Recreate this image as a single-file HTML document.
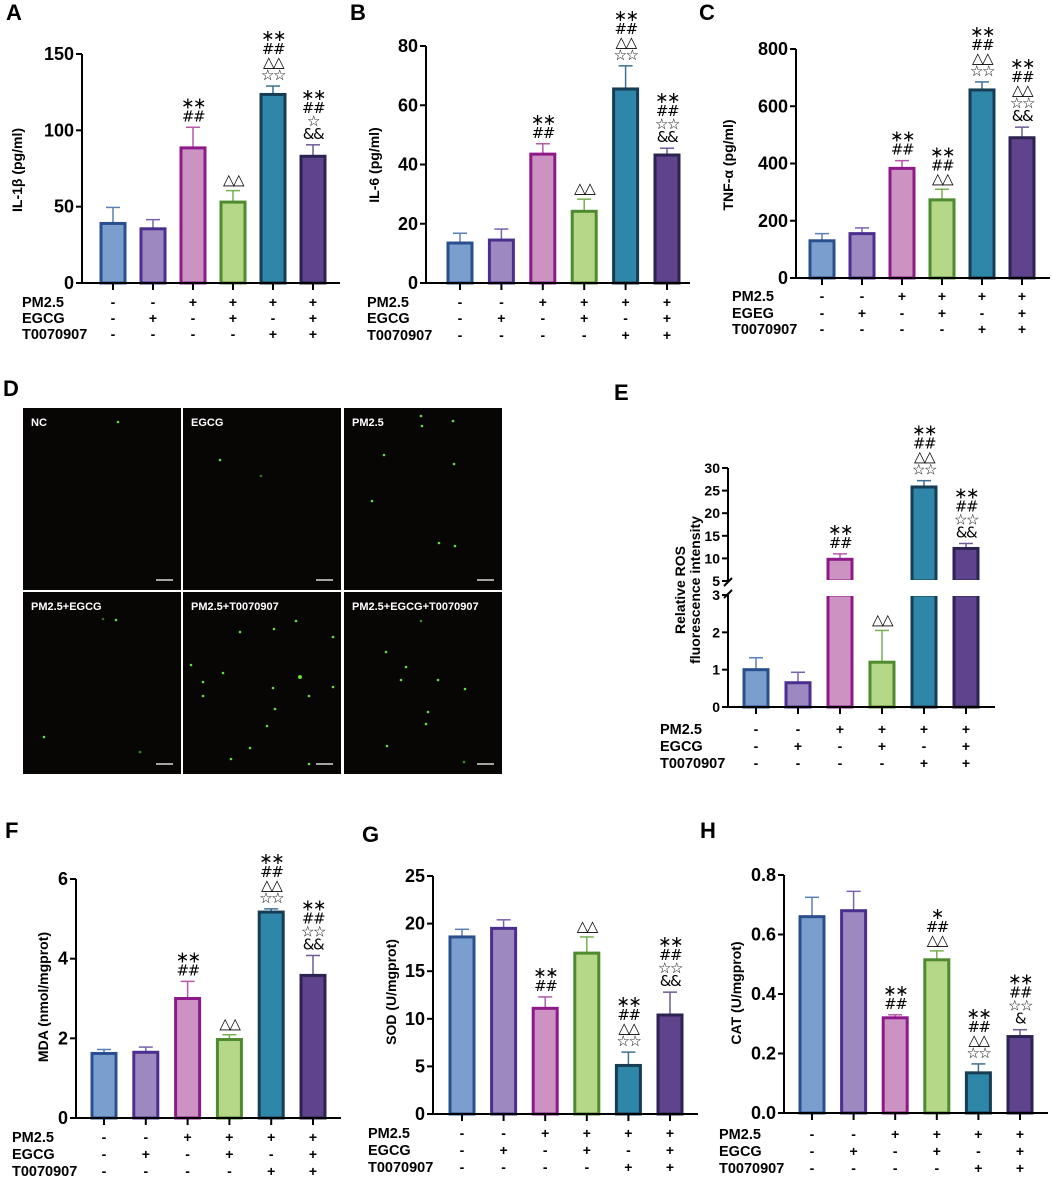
<!DOCTYPE html>
<html><head><meta charset="utf-8"><style>
html,body{margin:0;padding:0;background:#fff;}
svg{display:block;font-family:"Liberation Sans","DejaVu Sans",sans-serif;}
</style></head><body>
<svg id="fig" width="1052" height="1178" viewBox="0 0 1052 1178" xmlns="http://www.w3.org/2000/svg"></svg>
<script>
// ---------- data ----------
const groupRows = ["PM2.5","EGCG","T0070907"];
const groupSigns = [["-","-","+","+","+","+"],["-","+","-","+","-","+"],["-","-","-","-","+","+"]];
const il1bMeans = [39,35.5,88.5,53,123.5,83];
const il1bTops  = [49.5,41.5,102,60.5,129,90.5];
const il6Means = [13.5,14.5,43.5,24.2,65.5,43.2];
const il6Tops  = [16.8,18.2,47,28.3,73.3,45.5];
const tnfMeans = [130,155,383,273,657,490];
const tnfTops  = [155,175,410,310,685,527];
const rosMeans = [1.0,0.65,9.8,1.2,25.8,12.2];
const rosTops  = [1.32,0.93,11,2.05,27.2,13.3];
const mdaMeans = [1.62,1.65,3.0,1.97,5.17,3.58];
const mdaTops  = [1.72,1.78,3.43,2.09,5.25,4.08];
const sodMeans = [18.6,19.5,11.1,16.9,5.1,10.4];
const sodTops  = [19.4,20.4,12.3,18.6,6.5,12.8];
const catMeans = [0.66,0.68,0.32,0.515,0.135,0.257];
const catTops  = [0.725,0.745,0.33,0.545,0.165,0.28];
const il1bTicks=[0,50,100,150], il6Ticks=[0,20,40,60,80], tnfTicks=[0,200,400,600,800];
const rosTicksTop=[5,10,15,20,25,30], rosTicksBottom=[0,1,2,3];
const mdaTicks=[0,2,4,6], sodTicks=[0,5,10,15,20,25], catTicks=[0,0.2,0.4,0.6,0.8];
const annA=[[],[],["∗∗","##"],["△△"],["∗∗","##","△△","☆☆"],["∗∗","##","☆","&&"]];
const annB=[[],[],["∗∗","##"],["△△"],["∗∗","##","△△","☆☆"],["∗∗","##","☆☆","&&"]];
const annC=[[],[],["∗∗","##"],["∗∗","##","△△"],["∗∗","##","△△","☆☆"],["∗∗","##","△△","☆☆","&&"]];
const annE=[[],[],["∗∗","##"],["△△"],["∗∗","##","△△","☆☆"],["∗∗","##","☆☆","&&"]];
const annF=annE, annG=annE;
const annH=[[],[],["∗∗","##"],["∗","##","△△"],["∗∗","##","△△","☆☆"],["∗∗","##","☆☆","&"]];

const fills=["#7a9fcf","#9d88c0","#cc92c2","#b5d788","#2e86a8","#5f438d"];
const strokes=["#2a4f8f","#4a2f8f","#8e1a8a","#4e8a2e","#173d55","#2d2350"];
const errCols=["#5a7fb5","#7a62b0","#b35aa8","#76b050","#3d7090","#6e5a95"];

const NS="http://www.w3.org/2000/svg";
const svg=document.getElementById('fig');
function mk(tag,attrs,parent,text){
  const e=document.createElementNS(NS,tag);
  for(const k in attrs) e.setAttribute(k,attrs[k]);
  if(text!==undefined) e.textContent=text;
  (parent||svg).appendChild(e); return e;
}
function annText(g,x,yBase,a){
  a.forEach((s,k)=>{
    const t=mk('text',{x:x,y:yBase-6-(a.length-1-k)*13,'text-anchor':'middle','font-size':s.indexOf('∗')>=0?16:15,'font-family':'"DejaVu Sans",sans-serif','letter-spacing':'-1.5'},g,s);
    
    
  });
}

function drawChart(c){
  const g=mk('g',{});
  
  
  const ys=v=>c.y0-(v/c.yMax)*(c.y0-c.yTop);
  const xs=i=>c.bx0+i*c.bsp;
  const pl=mk('text',{x:c.lx,y:c.ly,'font-size':22,'font-weight':'bold'},g,c.letter);
  
  
  c.means.forEach((v,i)=>{
    const x=xs(i), w=24;
    const eb=mk('g',{},g);
    
    
    mk('line',{x1:x,x2:x,y1:ys(v),y2:ys(c.tops[i]),stroke:errCols[i],'stroke-width':1.5},eb);
    mk('line',{x1:x-7,x2:x+7,y1:ys(c.tops[i]),y2:ys(c.tops[i]),stroke:errCols[i],'stroke-width':1.5},eb);
    const r=mk('rect',{x:x-w/2,y:ys(v),width:w,height:c.y0-ys(v),fill:fills[i],stroke:strokes[i],'stroke-width':3},g);
    
    
    annText(g,x,ys(c.tops[i]),c.ann[i]);
  });
  mk('line',{x1:c.ax,x2:c.ax,y1:c.y0,y2:c.yTop,stroke:'#000','stroke-width':2},g);
  mk('line',{x1:c.ax-1,x2:c.axEnd,y1:c.y0,y2:c.y0,stroke:'#000','stroke-width':2},g);
  c.ticks.forEach(t=>{
    const y=ys(t);
    mk('line',{x1:c.ax-6,x2:c.ax,y1:y,y2:y,stroke:'#000','stroke-width':2},g);
    const tl=mk('text',{x:c.ax-8,y:y+6,'text-anchor':'end','font-size':18,'font-weight':'bold'},g,c.tickFmt?c.tickFmt(t):String(t));
    
    
  });
  c.means.forEach((v,i)=>mk('line',{x1:xs(i),x2:xs(i),y1:c.y0,y2:c.y0+7,stroke:'#000','stroke-width':2},g));
  const tt=mk('text',{x:0,y:0,'text-anchor':'middle','font-size':14,'font-weight':'bold',transform:`translate(${c.tx},${c.ty}) rotate(-90)`},g,c.title);
  
  
  drawRows(g,c.rowX,c.rowY,c.rowNames||groupRows,xs);
}
function drawRows(g,rx,ry,names,xs){
  names.forEach((n,r)=>{
    const y=ry[r];
    const t=mk('text',{x:rx,y:y+5,'font-size':14.5,'font-weight':'bold'},g,n);
    
    
    groupSigns[r].forEach((s,i)=>{
      const st=mk('text',{x:xs(i),y:y+5,'text-anchor':'middle','font-size':14,'font-weight':'bold'},g,s);
      
      
    });
  });
}

drawChart({name:'chart-il1b',letter:'A',lx:6,ly:20,ax:82,axEnd:340,y0:283,yTop:54,yMax:150,ticks:il1bTicks,bx0:113,bsp:40,
  means:il1bMeans,tops:il1bTops,ann:annA,title:'IL-1β (pg/ml)',tx:22,ty:170,rowX:22,rowY:[302,318,334]});
drawChart({name:'chart-il6',letter:'B',lx:350,ly:20,ax:426,axEnd:690,y0:283,yTop:46,yMax:80,ticks:il6Ticks,bx0:460,bsp:41.4,
  means:il6Means,tops:il6Tops,ann:annB,title:'IL-6 (pg/ml)',tx:379,ty:165,rowX:367,rowY:[302,318,335]});
drawChart({name:'chart-tnf',letter:'C',lx:699,ly:20,ax:796,axEnd:1050,y0:278,yTop:49,yMax:800,ticks:tnfTicks,bx0:822,bsp:40,
  means:tnfMeans,tops:tnfTops,ann:annC,title:'TNF-α  (pg/ml)',tx:733,ty:165,rowX:732,rowY:[296,313,329],rowNames:['PM2.5','EGEG','T0070907']});
drawChart({name:'chart-mda',letter:'F',lx:5,ly:838,ax:76,axEnd:341,y0:1118,yTop:879,yMax:6,ticks:mdaTicks,bx0:104,bsp:41.8,
  means:mdaMeans,tops:mdaTops,ann:annF,title:'MDA (nmol/mgprot)',tx:48,ty:997,rowX:12,rowY:[1137,1154,1171]});
drawChart({name:'chart-sod',letter:'G',lx:362,ly:842,ax:433,axEnd:698,y0:1114,yTop:876,yMax:25,ticks:sodTicks,bx0:462,bsp:41.6,
  means:sodMeans,tops:sodTops,ann:annG,title:'SOD (U/mgprot)',tx:396,ty:992,rowX:368,rowY:[1133,1150,1167]});
drawChart({name:'chart-cat',letter:'H',lx:700,ly:838,ax:784,axEnd:1048,y0:1113,yTop:875,yMax:0.8,ticks:catTicks,bx0:812,bsp:41.6,
  means:catMeans,tops:catTops,ann:annH,title:'CAT (U/mgprot)',tx:741,ty:993,rowX:719,rowY:[1134,1151,1168],tickFmt:t=>t.toFixed(1)});

// ---------- Panel E (broken axis) ----------
(function(){
  const g=mk('g',{});
  
  
  const ax=728, axEnd=995, y0=707, yB3=595, yT5=581, yT30=468;
  const ysB=v=>y0-v*(y0-yB3)/3;
  const ysT=v=>yT5-(v-5)*(yT5-yT30)/25;
  const ys=v=>v<=3?ysB(v):ysT(v);
  const xs=i=>756+i*42;
  const pl=mk('text',{x:614,y:400,'font-size':22,'font-weight':'bold'},g,'E');
  
  
  rosMeans.forEach((v,i)=>{
    const x=xs(i), w=24;
    const eb=mk('g',{},g);
    
    
    mk('line',{x1:x,x2:x,y1:ys(v),y2:ys(rosTops[i]),stroke:errCols[i],'stroke-width':1.5},eb);
    mk('line',{x1:x-7,x2:x+7,y1:ys(rosTops[i]),y2:ys(rosTops[i]),stroke:errCols[i],'stroke-width':1.5},eb);
    const topLow=ysB(Math.min(v,3));
    const r=mk('rect',{x:x-w/2,y:topLow,width:w,height:y0-topLow,fill:fills[i],stroke:strokes[i],'stroke-width':3},g);
    
    
    if(v>5){
      const r2=mk('rect',{x:x-w/2,y:ysT(v),width:w,height:yT5-ysT(v),fill:fills[i],stroke:strokes[i],'stroke-width':3},g);
      
      
    }
    if(v>3){ mk('rect',{x:x-w/2-3,y:yT5-1,width:w+6,height:yB3-yT5+2,fill:'#fff'},g); }
    annText(g,x,ys(rosTops[i]),annE[i]);
  });
  mk('line',{x1:ax,x2:ax,y1:y0,y2:yB3,stroke:'#000','stroke-width':2},g);
  mk('line',{x1:ax,x2:ax,y1:yT5,y2:yT30,stroke:'#000','stroke-width':2},g);
  mk('line',{x1:ax-4,x2:ax+4,y1:yB3+3,y2:yB3-5,stroke:'#000','stroke-width':2},g);
  mk('line',{x1:ax-4,x2:ax+4,y1:yT5+5,y2:yT5-3,stroke:'#000','stroke-width':2},g);
  mk('line',{x1:ax-1,x2:axEnd,y1:y0,y2:y0,stroke:'#000','stroke-width':2},g);
  rosTicksBottom.forEach(t=>{const y=ysB(t);
    mk('line',{x1:ax-6,x2:ax,y1:y,y2:y,stroke:'#000','stroke-width':2},g);
    const tl=mk('text',{x:ax-8,y:y+5,'text-anchor':'end','font-size':14,'font-weight':'bold'},g,String(t));
    
    });
  rosTicksTop.forEach(t=>{const y=ysT(t);
    mk('line',{x1:ax-6,x2:ax,y1:y,y2:y,stroke:'#000','stroke-width':2},g);
    const tl=mk('text',{x:ax-8,y:y+5,'text-anchor':'end','font-size':14,'font-weight':'bold'},g,String(t));
    
    });
  rosMeans.forEach((v,i)=>mk('line',{x1:xs(i),x2:xs(i),y1:y0,y2:y0+7,stroke:'#000','stroke-width':2},g));
  const t1=mk('text',{x:0,y:0,'text-anchor':'middle','font-size':14,'font-weight':'bold',transform:'translate(685,590) rotate(-90)'},g,'Relative ROS');
  
  
  const t2=mk('text',{x:0,y:0,'text-anchor':'middle','font-size':14,'font-weight':'bold',transform:'translate(700,590) rotate(-90)'},g,'fluorescence intensity');
  
  
  drawRows(g,660,[729,746,763],groupRows,xs);
})();

// ---------- Panel D micrographs ----------
(function(){
  const g=mk('g',{});
  
  
  const pl=mk('text',{x:3,y:396,'font-size':22,'font-weight':'bold'},g,'D');
  
  
  mk('rect',{x:23,y:408,width:479,height:366,fill:'#fff'},g);
  const cols=[23,183,344], rows=[408,592], W=158, H=182;
  const names=['NC','EGCG','PM2.5','PM2.5+EGCG','PM2.5+T0070907','PM2.5+EGCG+T0070907'];
  const dots=[
    [[95,14]],
    [[37,52],[78,68,0.5]],
    [[40,47],[78,18],[77,8],[109,13],[110,56],[28,93],[95,135],[111,138]],
    [[93,28],[80,27,0.5],[21,145],[117,160,0.6]],
    [[91,37],[113,29],[57,40],[150,45],[8,73],[20,90],[40,81],[117,85,2],[90,96],[20,104],[92,117],[84,134],[67,156],[48,167],[126,172],[126,104],[150,95]],
    [[62,75],[42,60],[57,88],[94,88],[121,97],[84,120],[43,154],[82,132],[77,29,0.6],[120,170,0.6]]
  ];
  names.forEach((n,k)=>{
    const x=cols[k%3], y=rows[Math.floor(k/3)];
    const p=mk('g',{},g);
    
    
    mk('rect',{x:x,y:y,width:W,height:H,fill:'#080505'},p);
    dots[k].forEach(d=>mk('circle',{cx:x+d[0],cy:y+d[1],r:d[2]&&d[2]>1?d[2]:1.3,fill:'#5fe03a','fill-opacity':d[2]&&d[2]<1?d[2]:1},p));
    mk('line',{x1:x+W-25,x2:x+W-8,y1:y+H-10,y2:y+H-10,stroke:'#d8d8d8','stroke-width':1.5},p);
    const t=mk('text',{x:x+8,y:y+18,'font-size':11,'font-weight':'bold',fill:'#fff'},p,n);
    
    
  });
})();
</script>
</body></html>
